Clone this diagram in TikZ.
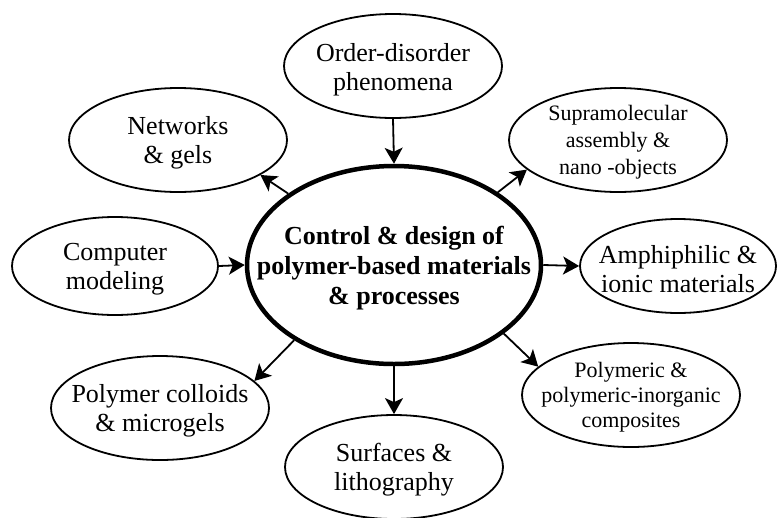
\documentclass[tikz,border=0pt]{standalone}
\usepackage{fontspec}
\setmainfont{Liberation Serif}
\usetikzlibrary{shapes.geometric,arrows.meta}
\tikzset{
  bub/.style={ellipse, draw=black, line width=1.8pt, inner sep=0pt},
  hub/.style={ellipse, draw=black, line width=4.5pt, inner sep=0pt},
  tx/.style={align=center, inner sep=0pt, font=\fontsize{26}{29}\selectfont},
  txs/.style={align=center, inner sep=0pt, font=\fontsize{22}{26}\selectfont},
  txb/.style={align=center, inner sep=0pt, font=\fontsize{26}{30}\selectfont\bfseries},
  arr/.style={line width=1.8pt, -{Stealth[length=16pt 0, width=18pt 0, inset=4pt 0]}}
}
\begin{document}
\begin{tikzpicture}[x=1pt, y=-1pt]
\useasboundingbox (0,0) rectangle (778,517);
% central
\node[hub, minimum width=294pt, minimum height=198pt] (c) at (394,265) {};
\node[txb] (ct) at (394,268) {Control \& design of\\polymer-based materials\\\& processes};
% satellites
\node[bub, minimum width=218pt, minimum height=104pt] (ord) at (393,66) {};
\node[tx] (ordt) at (393,70) {Order-disorder\\phenomena};
\node[bub, minimum width=218pt, minimum height=104pt] (net) at (178,140) {};
\node[tx] (nett) at (178,143) {Networks\\\& gels};
\node[bub, minimum width=206pt, minimum height=98pt] (comp) at (115,266) {};
\node[tx] (compt) at (115,269) {Computer\\modeling};
\node[bub, minimum width=218pt, minimum height=104pt] (sup) at (618,140) {};
\node[txs, font=\fontsize{22}{27}\selectfont] (supt) at (618,142) {Supramolecular\\assembly \&\\nano -objects};
\node[bub, minimum width=196pt, minimum height=94pt] (amp) at (678,266) {};
\node[tx] (ampt) at (678,269) {Amphiphilic \&\\ionic materials};
\node[bub, minimum width=218pt, minimum height=104pt] (col) at (160,408) {};
\node[tx] (colt) at (160,411) {Polymer colloids\\\& microgels};
\node[bub, minimum width=218pt, minimum height=104pt] (sur) at (394,467) {};
\node[tx] (surt) at (394,470) {Surfaces \&\\lithography};
\node[bub, minimum width=218pt, minimum height=104pt] (pol) at (631,395) {};
\node[txs, font=\fontsize{22}{25}\selectfont] (polt) at (631,397) {Polymeric \&\\polymeric-inorganic\\composites};
% connectors
\draw[line width=1.8pt, -{Stealth[length=16pt, width=18pt, inset=4pt]}] (ord.south) -- (c.north);
\draw[arr] (c.146.8) -- (net.-23.8);
\draw[arr] (comp.east) -- (c.west);
\draw[arr] (c.35.3) -- (sup.-162.9);
\draw[arr] (c.east) -- (amp.west);
\draw[arr] (c.217.3) -- (col.16.9);
\draw[arr] (c.south) -- (sur.north);
\draw[arr] (c.-32.4) -- (pol.163.8);
\end{tikzpicture}
\end{document}
